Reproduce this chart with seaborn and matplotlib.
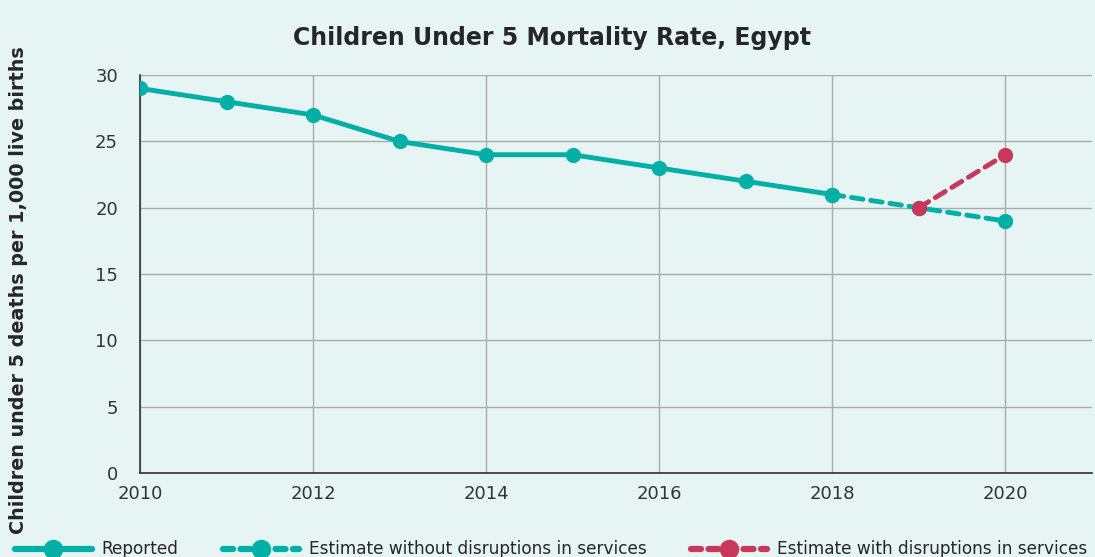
import numpy as np
import pandas as pd
import seaborn as sns
import matplotlib.pyplot as plt
from matplotlib.lines import Line2D

years_reported = [2010, 2011, 2012, 2013, 2014, 2015, 2016, 2017, 2018]
reported = [29, 28, 27, 25, 24, 24, 23, 22, 21]
years_est = [2018, 2019, 2020]
est_without = [21, 20, 19]
years_dis = [2019, 2020]
est_with = [20, 24]

teal = "#00AFA5"
red = "#C8385A"
bg = "#E6F4F3"

sns.set_style("whitegrid")
plt.rcParams['font.family'] = ['DejaVu Sans']

fig, ax = plt.subplots(figsize=(10.95, 5.57), dpi=100)
fig.patch.set_facecolor(bg)
ax.set_facecolor(bg)
fig.subplots_adjust(left=0.128, right=0.997, bottom=0.151, top=0.865)

dash = (0, (2.4, 1.6))
sns.lineplot(x=years_est, y=est_without, ax=ax, color=teal, marker='o', markersize=11,
             linewidth=3.5, linestyle=dash, dash_capstyle='round', markeredgewidth=0, zorder=3)
sns.lineplot(x=years_dis, y=est_with, ax=ax, color=red, marker='o', markersize=11,
             linewidth=3.5, linestyle=dash, dash_capstyle='round', markeredgewidth=0, zorder=4)
sns.lineplot(x=years_reported, y=reported, ax=ax, color=teal, marker='o', markersize=11,
             linewidth=3.5, markeredgewidth=0, zorder=5)

ax.set_xlim(2010, 2021)
ax.set_ylim(0, 30)
ax.set_xticks([2010, 2012, 2014, 2016, 2018, 2020])
ax.set_yticks([0, 5, 10, 15, 20, 25, 30])
ax.grid(True, color="#AAAAAA", linewidth=1)
for s in ["top", "right"]:
    ax.spines[s].set_visible(False)
for s in ["left", "bottom"]:
    ax.spines[s].set_color("#333333")
    ax.spines[s].set_linewidth(1.2)
ax.tick_params(axis='both', labelsize=13, colors="#333333", length=0)
ax.tick_params(axis='y', pad=16)
ax.tick_params(axis='x', pad=9)

ax.set_title("Children Under 5 Mortality Rate, Egypt", fontsize=17, fontweight='bold', pad=22, x=0.433)
fig.text(0.017, 0.48, "Children under 5 deaths per 1,000 live births", rotation=90,
         fontsize=13.8, fontweight='bold', va='center', ha='center')
ax.set_xlabel("")
ax.set_ylabel("")

handles = [
    Line2D([], [], color=teal, marker='o', markersize=14, linewidth=4.5, markeredgewidth=0),
    Line2D([], [], color=teal, marker='o', markersize=14, linewidth=4.5, markeredgewidth=0,
           linestyle=(0, (1.6, 1.2)), dash_capstyle='round'),
    Line2D([], [], color=red, marker='o', markersize=14, linewidth=4.5, markeredgewidth=0,
           linestyle=(0, (1.6, 1.2)), dash_capstyle='round'),
]
labels = ["Reported", "Estimate without disruptions in services", "Estimate with disruptions in services"]
fig.legend(handles, labels, loc='lower left', bbox_to_anchor=(0.0, -0.03), ncol=3, frameon=False,
           fontsize=12.2, handlelength=4.5, columnspacing=2.6, handletextpad=0.6)

plt.savefig("out.png", dpi=100, facecolor=bg)
